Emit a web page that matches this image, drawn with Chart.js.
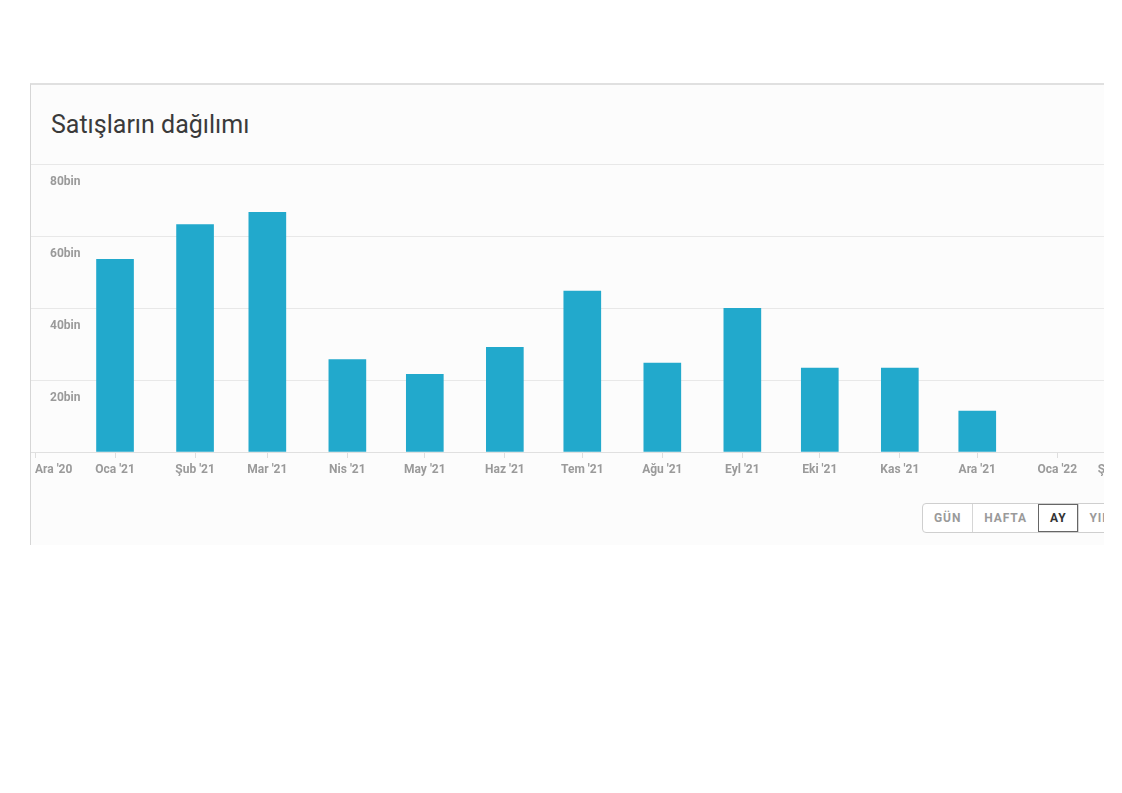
<!DOCTYPE html>
<html>
<head>
<meta charset="utf-8">
<script src="https://cdn.jsdelivr.net/npm/chart.js@4/dist/chart.umd.min.js"></script>
<style>
  body { margin: 0; background: #fff; font-family: Roboto, "Noto Sans", sans-serif; }
  #clip { position: absolute; left: 0; top: 0; width: 1104px; height: 793px; overflow: hidden; }
  .card {
    position: absolute; left: 30px; top: 83px; width: 1200px; height: 460px;
    background: #fcfcfc; border-left: 1px solid #d6d6d6; border-top: 2px solid #e0e0e0;
  }
  .card-header {
    height: 80px; border-bottom: 1px solid #e4e4e4; box-sizing: border-box;
  }
  .card-header h6 {
    margin: 0; padding: 25px 0 0 20px; font-size: 25px; font-weight: 400; color: #3a3a3a;
  }
  .chart-box { position: absolute; left: 0; top: 73px; width: 1120px; height: 330px; }
  .btn-group {
    position: absolute; left: 891px; top: 418px; height: 28px; display: flex;
    border: 1px solid #cfcfcf; border-radius: 4px; background: #fff;
  }
  .btn-group span {
    display: block; height: 28px; line-height: 28px; padding: 0 11px; font-size: 12px;
    font-weight: 700; color: #9a9a9a; border-left: 1px solid #d6d6d6; letter-spacing: 0.9px;
  }
  .btn-group span:first-child { border-left: none; }
  .btn-group span.active { color: #333; outline: 1px solid #666; outline-offset: -1px; }
</style>
</head>
<body>
<div id="clip">
  <div class="card">
    <div class="card-header"><h6>Satışların dağılımı</h6></div>
    <div class="chart-box"><canvas id="chartSales"></canvas></div>
    <div class="btn-group">
      <span>GÜN</span><span>HAFTA</span><span class="active">AY</span><span>YIL</span>
    </div>
  </div>
</div>
<script>
const categories = ['2021-01-01', '2021-02-01', '2021-03-01', '2021-04-01', '2021-05-01', '2021-06-01',
  '2021-07-01', '2021-08-01', '2021-09-01', '2021-10-01', '2021-11-01', '2021-12-01']
const sales = [53500, 63200, 66600, 25700, 21600, 29100, 44700, 24700, 39900, 23300, 23300, 11400]

const tickDates = ['2020-12-01', '2021-01-01', '2021-02-01', '2021-03-01', '2021-04-01', '2021-05-01',
  '2021-06-01', '2021-07-01', '2021-08-01', '2021-09-01', '2021-10-01', '2021-11-01', '2021-12-01',
  '2022-01-01', '2022-02-01']
const tickLabels = ["Ara '20", "Oca '21", "Şub '21", "Mar '21", "Nis '21", "May '21", "Haz '21",
  "Tem '21", "Ağu '21", "Eyl '21", "Eki '21", "Kas '21", "Ara '21", "Oca '22", "Şub '22"]
const yTicks = [0, 20000, 40000, 60000, 80000]

// days since 1 Dec 2020, used as the linear x value
const day = (d) => (Date.parse(d) - Date.parse('2020-12-01')) / 86400000

const tickFont = { family: 'Roboto', size: 12, weight: '700' }

var ctx = document.getElementById('chartSales')
var salesChart = new Chart(ctx, {
  type: 'bar',
  data: {
    datasets: [{
      data: categories.map((c, i) => ({ x: day(c), y: sales[i] })),
      backgroundColor: '#22a9cc',
      barThickness: 37
    }]
  },
  options: {
    responsive: true,
    maintainAspectRatio: false,
    animation: false,
    layout: { padding: { top: 6, left: 0, right: 0, bottom: 0 } },
    plugins: { legend: { display: false }, tooltip: { enabled: false } },
    scales: {
      x: {
        type: 'linear',
        offset: false,
        min: -1.55,
        max: 432.3,
        afterBuildTicks: (scale) => { scale.ticks = tickDates.map(d => ({ value: day(d) })) },
        afterFit: (scale) => { scale.height = 36; scale.paddingLeft = 0; scale.paddingRight = 0 },
        grid: { offset: false, drawOnChartArea: false, drawTicks: true, tickLength: 6, color: '#dedede' },
        border: { color: '#e0e0e0' },
        ticks: {
          autoSkip: false,
          maxRotation: 0,
          align: 'inner',
          padding: 5,
          color: '#9a9a9a',
          font: tickFont,
          callback: (v, i) => tickLabels[i]
        }
      },
      y: {
        min: 0,
        max: 80000,
        afterBuildTicks: (scale) => { scale.ticks = yTicks.map(v => ({ value: v })) },
        afterFit: (scale) => { scale.width = 0; scale.paddingTop = 0; scale.paddingBottom = 0 },
        grid: { drawTicks: false, color: '#e8e8e8' },
        border: { display: false },
        ticks: {
          mirror: true,
          padding: 19,
          labelOffset: 18,
          color: '#9a9a9a',
          font: tickFont,
          callback: (v) => v === 0 ? '' : (v / 1000) + 'bin'
        }
      }
    }
  }
})
</script>
</body>
</html>
